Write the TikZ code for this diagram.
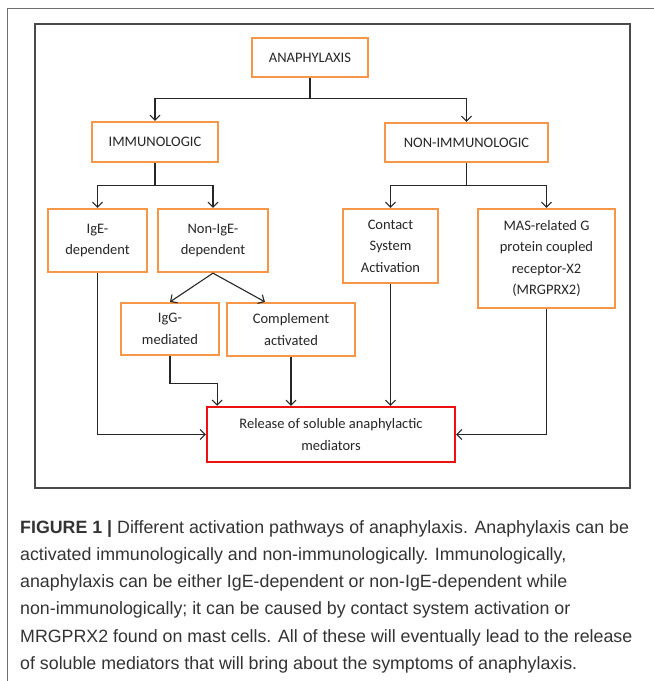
\documentclass[tikz,border=0pt]{standalone}
\usepackage{fontspec}
\setmainfont{Carlito}
\newfontfamily\capfont{Liberation Sans}
\usetikzlibrary{arrows.meta,positioning,calc}
\definecolor{boxorange}{HTML}{F79646}
\definecolor{relred}{HTML}{EE1111}
\definecolor{framegray}{HTML}{4A4A4A}

\begin{document}
\begin{tikzpicture}[x=1pt,y=-1pt,
    >={Straight Barb[length=5pt,width=10pt]},
    box/.style={draw=boxorange,line width=2.3pt,fill=white,align=center,inner sep=0pt,
      text=black!85,font=\fontsize{14.5}{21.5}\selectfont},
    link/.style={draw=black!85,line width=1.1pt},
  ]
  \useasboundingbox (0,0) rectangle (654,681);
  \draw[framegray!80,line width=1pt] (654,8) -- (7,8) -- (7,681);
  \draw[framegray,line width=1.2pt] (35,24) rectangle (630,488);

  % boxes
  \node[box,minimum width=116pt,minimum height=39pt] (ana) at (310,57.5) {ANAPHYLAXIS};
  \node[box,minimum width=126pt,minimum height=40pt] (imm) at (155,142) {IMMUNOLOGIC};
  \node[box,minimum width=163pt,minimum height=39pt] (nonimm) at (466.5,142.5) {NON-IMMUNOLOGIC};
  \node[box,minimum width=99pt,minimum height=63pt] (ige) at (97.5,240.5) {IgE-\\dependent};
  \node[box,minimum width=110pt,minimum height=63pt] (nonige) at (213,240.5) {Non-IgE-\\dependent};
  \node[box,minimum width=95pt,minimum height=74pt] (cont) at (390.5,246) {Contact\\System\\Activation};
  \node[box,minimum width=137pt,minimum height=99pt] (mas) at (546.5,258.5) {MAS-related G\\protein coupled\\receptor-X2\\(MRGPRX2)};
  \node[box,minimum width=98pt,minimum height=52pt] (igg) at (170,329) {IgG-\\mediated};
  \node[box,minimum width=128pt,minimum height=53pt] (comp) at (291,329.5) {Complement\\activated};
  \node[box,draw=relred,minimum width=248pt,minimum height=55pt] (rel) at (331,434.5) {Release of soluble anaphylactic\\mediators};

  % arrows
  \draw[link,->] (ana.south) -- ++(0,20) -| (imm.north);
  \draw[link,->] (ana.south) -- ++(0,20) -| (nonimm.north);
  \draw[link,->] (imm.south) -- ++(0,22) -| (ige.north);
  \draw[link,->] (imm.south) -- ++(0,22) -| (nonige.north);
  \draw[link,->] (nonimm.south) -- ++(0,22) -| (cont.north);
  \draw[link,->] (nonimm.south) -- ++(0,22) -| (mas.north);
  \draw[link,->] (nonige.south) -- (igg.north);
  \draw[link,->] (nonige.south) -- ($(comp.north west)!0.3!(comp.north east)$);
  \draw[link,->] (ige.south) |- (rel.west);
  \draw[link,->] (igg.south) -- ++(0,27) -| ($(rel.north west)!0.045!(rel.north east)$);
  \draw[link,->] (comp.south) -- (comp.south |- rel.north);
  \draw[link,->] (cont.south) -- (cont.south |- rel.north);
  \draw[link,->] (mas.south) |- (rel.east);

  % caption
  \node[anchor=base west,align=left,inner sep=0pt,text=black!80,
    font=\capfont\fontsize{17.8}{27.3}\selectfont] (cap) at (20,669.5)
    {\textbf{FIGURE 1 |} Different activation pathways of anaphylaxis. Anaphylaxis can be\\
     activated immunologically and non-immunologically. Immunologically,\\
     anaphylaxis can be either IgE-dependent or non-IgE-dependent while\\
     non-immunologically; it can be caused by contact system activation or\\
     MRGPRX2 found on mast cells. All of these will eventually lead to the release\\
     of soluble mediators that will bring about the symptoms of anaphylaxis.};
\end{tikzpicture}
\end{document}
